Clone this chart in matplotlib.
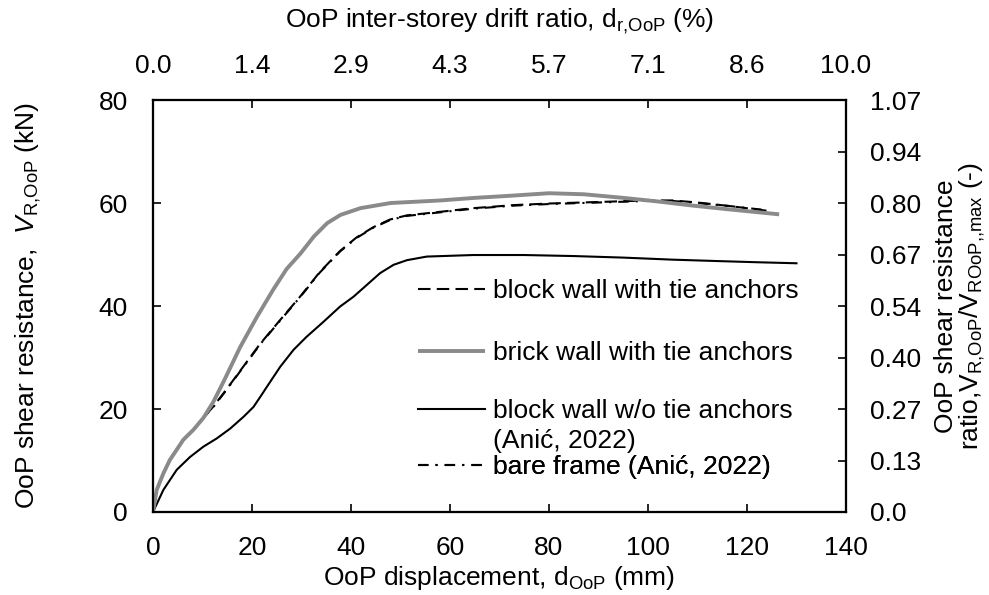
import matplotlib
matplotlib.use("Agg")
import matplotlib.pyplot as plt
import numpy as np

plt.rcParams['font.family'] = ['Liberation Sans', 'DejaVu Sans']
plt.rcParams['mathtext.fontset'] = 'custom'
plt.rcParams['mathtext.rm'] = 'Liberation Sans'
plt.rcParams['mathtext.it'] = 'Liberation Sans:italic'
plt.rcParams['mathtext.default'] = 'regular'
plt.rcParams['font.size'] = 19

# ---- data (displacement in mm, resistance in kN) ----
brick_x = [0, 0.75, 2.1, 3.4, 4.8, 6.1, 8.2, 10.2, 12.2, 14.3, 17.6, 21.0, 24.3, 27.0,
           29.8, 32.5, 35.2, 37.9, 41.9, 48.0, 58.1, 65, 72, 80, 87, 95, 102, 109,
           116, 126.5]
brick_y = [0, 4.3, 7.5, 10.1, 12.1, 14.0, 16.0, 18.3, 21.4, 25.4, 32.0, 37.9, 43.2, 47.2,
           50.2, 53.5, 56.1, 57.7, 59.0, 60.0, 60.5, 61.0, 61.4, 61.9, 61.7, 61.0, 60.3,
           59.5, 58.8, 57.8]

block_tie_x = [0, 0.75, 2.1, 3.4, 4.8, 6.1, 8.2, 10.2, 12.2, 14.6, 17.6, 21.6, 25.7,
               29.7, 33.7, 37.8, 41.1, 44.5, 47.9, 51.3, 58.1, 64.7, 73, 80, 90, 100,
               105, 110, 116.6, 124]
block_tie_y = [0, 4.3, 7.5, 10.1, 12.1, 14.0, 16.0, 18.3, 20.5, 23.5, 27.4, 32.6, 37.3,
               41.8, 46.6, 50.7, 53.3, 55.3, 56.8, 57.6, 58.3, 59.0, 59.6, 59.9, 60.2,
               60.5, 60.5, 60.1, 59.4, 58.5]

bare_x = [0, 0.75, 2.1, 3.4, 4.8, 6.1, 8.2, 10.2, 12.2, 14.6, 17.6, 21.6, 25.7,
          29.7, 33.7, 37.8, 41.1, 44.5, 47.9, 51.3, 58.1, 64.7, 73, 80, 90, 100,
          105, 110, 116.6, 124]
bare_y = [0, 4.3, 7.5, 10.1, 12.1, 14.0, 16.0, 18.3, 20.4, 23.4, 27.3, 32.5, 37.2,
          41.7, 46.5, 50.6, 53.2, 55.2, 56.7, 57.5, 58.2, 58.9, 59.5, 59.8, 60.1,
          60.4, 60.4, 60.0, 59.4, 58.6]

block_notie_x = [0, 2.1, 4.8, 7.5, 10.2, 12.9, 15.6, 18.3, 20.3, 21.7, 23.0, 25.7, 28.4,
                 31.0, 34.4, 37.8, 40.5, 43.2, 45.9, 48.6, 51.3, 55.3, 64.7, 75, 85,
                 95, 105, 115, 122, 130]
block_notie_y = [0, 4.3, 8.2, 10.7, 12.7, 14.3, 16.2, 18.5, 20.4, 22.4, 24.3, 28.2, 31.5,
                 34.0, 36.9, 39.9, 41.8, 44.1, 46.4, 48.0, 48.9, 49.6, 49.9, 49.9, 49.7,
                 49.4, 49.0, 48.7, 48.5, 48.3]

labels = ["block wall with tie anchors", "brick wall with tie anchors",
          "block wall w/o tie anchors", "bare frame (Anić, 2022)"]
label_note = "(Anić, 2022)"

x_ticks = [0, 20, 40, 60, 80, 100, 120, 140]
y_ticks = [0, 20, 40, 60, 80]
top_tick_labels = ["0.0", "1.4", "2.9", "4.3", "5.7", "7.1", "8.6", "10.0"]
right_tick_labels = ["0.0", "0.13", "0.27", "0.40", "0.54", "0.67", "0.80", "0.94", "1.07"]
V_max = 74.8  # normalising shear resistance (80 kN -> 1.07)

# ---- figure ----
fig = plt.figure(figsize=(9.89, 5.95), dpi=100)
ax = fig.add_axes([0.1547, 0.1395, 0.7007, 0.6924])

gray = '#8a8a8a'
dash_style = (0, (6, 3))
dashdot_style = (0, (5, 3.4, 1, 3.4))

l_bare, = ax.plot(bare_x, bare_y, color='black', lw=1.5, linestyle=dashdot_style)
l_tie, = ax.plot(block_tie_x, block_tie_y, color='black', lw=1.5, linestyle=dash_style)
l_notie, = ax.plot(block_notie_x, block_notie_y, color='black', lw=1.5)
l_brick, = ax.plot(brick_x, brick_y, color=gray, lw=2.8, solid_capstyle='butt',
                   solid_joinstyle='round')

ax.set_xlim(0, 140)
ax.set_ylim(0, 80)
ax.set_xticks(x_ticks)
ax.set_yticks(y_ticks)
ax.tick_params(direction='in', length=6, width=1.2, pad=17)
ax.tick_params(axis='y', pad=18)
for s in ax.spines.values():
    s.set_linewidth(1.5)

ax.set_xlabel(r"OoP displacement, d$_{\mathrm{OoP}}$ (mm)")
ax.xaxis.set_label_coords(0.5, -0.16)
ax.xaxis.label.set_va('center')
ax.set_ylabel(r"OoP shear resistance,  $\mathit{V}_{\mathrm{R{,}OoP}}$ (kN)")
ax.yaxis.set_label_coords(-0.18, 0.5)
ax.yaxis.label.set_va('center')

# top axis: drift ratio
axt = ax.twiny()
axt.set_xlim(0, 140)
axt.set_xticks(x_ticks)
axt.set_xticklabels(top_tick_labels)
axt.tick_params(direction='in', length=6, width=1.2, pad=16)
axt.set_xlabel(r"OoP inter-storey drift ratio, d$_{\mathrm{r{,}OoP}}$ (%)")
axt.xaxis.set_label_coords(0.5, 1.19)
axt.xaxis.label.set_va('center')

# right axis: ratio
axr = ax.twinx()
axr.set_ylim(0, 80 / V_max)
r_ticks = np.linspace(0, 80 / V_max, len(right_tick_labels))
axr.set_yticks(r_ticks)
axr.set_yticklabels(right_tick_labels)
axr.tick_params(direction='in', length=6, width=1.2, pad=17)
axr.set_ylabel("OoP shear resistance\n" +
               r"ratio,V$_{\mathrm{R{,}OoP}}$/V$_{\mathrm{ROoP{,}{,}max}}$ (-)",
               rotation=90, linespacing=1.0)
axr.yaxis.set_label_coords(1.165, 0.5)
axr.yaxis.label.set_va('center')
for a in (axt, axr):
    for s in a.spines.values():
        s.set_linewidth(1.5)

# legend entries (manual placement, no frame)
entries = [(l_tie, labels[0], 0.536), (l_brick, labels[1], 0.386),
           (l_notie, labels[2], 0.245), (l_bare, labels[3], 0.109)]
for h, lab, yy in entries:
    leg = ax.legend([h], [lab], loc='center left', bbox_to_anchor=(0.382, yy),
                    frameon=False, borderpad=0, borderaxespad=0,
                    handlelength=2.55, handletextpad=0.3, fontsize=19)
    ax.add_artist(leg)
ax.text(0.491, 0.172, label_note, transform=ax.transAxes, fontsize=19,
        va='center', ha='left')

fig.savefig("out.png", dpi=100)
